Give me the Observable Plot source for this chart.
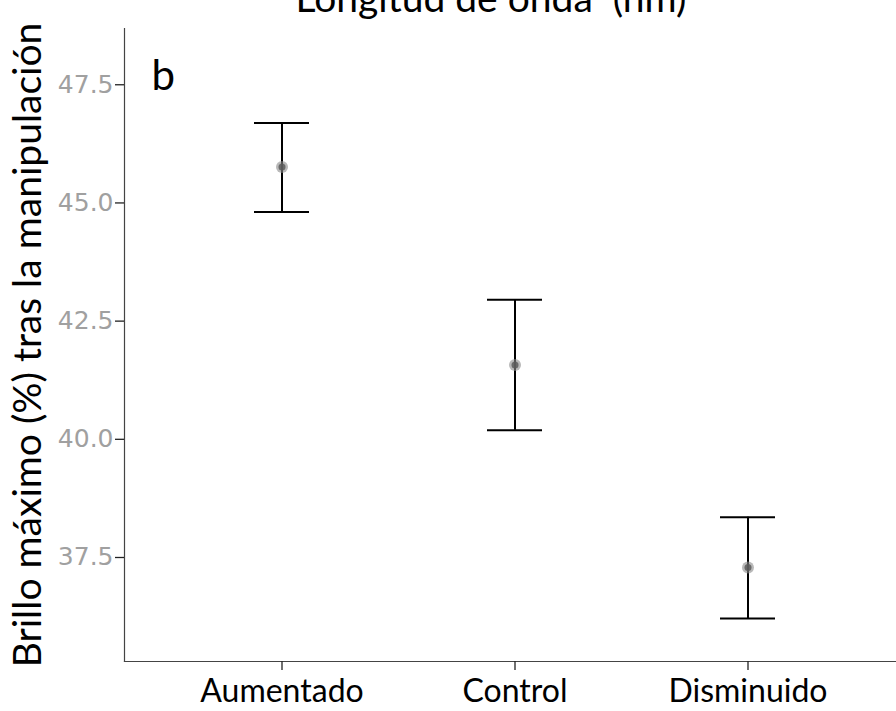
<!DOCTYPE html>
<html>
<head>
<meta charset="utf-8">
<script src="https://cdn.jsdelivr.net/npm/d3@7"></script>
<script src="https://cdn.jsdelivr.net/npm/@observablehq/plot@0.6"></script>
<style>
  body { margin: 0; background: #fff; }
  #wrap { position: relative; width: 896px; height: 711px; overflow: hidden; }
  #title { position: absolute; left: 0; width: 982px; text-align: center; top: -22px;
           font-family: Lato, "Open Sans", sans-serif; font-size: 39px; line-height: 1; color: #000; white-space: pre; }
  #chart { position: absolute; left: 0; top: 0; }
</style>
</head>
<body>
<div id="wrap">
  <div id="chart"></div>
  <div id="title">Longitud de onda  (nm)</div>
</div>
<script>
const groups = ["Aumentado", "Control", "Disminuido"];
const means = [45.76, 41.57, 37.29];
const upper = [46.69, 42.95, 38.35];
const lower = [44.81, 40.19, 36.21];
const yTicks = [37.5, 40.0, 42.5, 45.0, 47.5];
const panelLetter = "b";
const yLabel = "Brillo máximo (%) tras la manipulación";

const data = groups.map((g, i) => ({group: g, mean: means[i], hi: upper[i], lo: lower[i]}));

const chart = Plot.plot({
  width: 896,
  height: 711,
  marginLeft: 124,
  marginRight: 0,
  marginTop: 28,
  marginBottom: 50,
  style: {background: "#fff"},
  x: {type: "band", domain: groups, range: [75, 954], padding: 0.7645, align: 0.5},
  y: {domain: [35.3, 48.69]},
  marks: [
    Plot.frame({anchor: "left", stroke: "#444", strokeWidth: 1.2}),
    Plot.frame({anchor: "bottom", stroke: "#444", strokeWidth: 1.2}),
    Plot.axisY({ticks: yTicks, tickFormat: d3.format(".1f"), tickSize: 9, tickPadding: 2,
      stroke: "#222", strokeWidth: 1.3, color: "#a0a0a0", fontSize: 25, fontFamily: "DejaVu Sans", label: null}),
    Plot.axisY({ticks: [], label: yLabel, labelAnchor: "center", labelArrow: "none", labelOffset: 111,
      fontSize: 39, fontFamily: "Lato", color: "#000"}),
    Plot.axisX({tickSize: 9, tickPadding: 9, stroke: "#222", strokeWidth: 1.3, fontSize: 32, fontFamily: "Lato",
      color: "#000", label: null}),
    Plot.ruleX(data, {x: "group", y1: "lo", y2: "hi", stroke: "#000", strokeWidth: 2}),
    Plot.tickY(data, {x: "group", y: "hi", stroke: "#000", strokeWidth: 2}),
    Plot.tickY(data, {x: "group", y: "lo", stroke: "#000", strokeWidth: 2}),
    Plot.dot(data, {x: "group", y: "mean", r: 6, fill: "#8a8a8a", fillOpacity: 0.6, stroke: "none"}),
    Plot.dot(data, {x: "group", y: "mean", r: 3.5, fill: "#5a5a5a", fillOpacity: 0.85, stroke: "none"}),
    Plot.text([panelLetter], {frameAnchor: "top-left", text: d => d, dx: 27, dy: 32, fontSize: 42,
      fontFamily: "Lato", textAnchor: "start", lineAnchor: "top", fill: "#000"})
  ]
});
document.getElementById("chart").appendChild(chart);
</script>
</body>
</html>
